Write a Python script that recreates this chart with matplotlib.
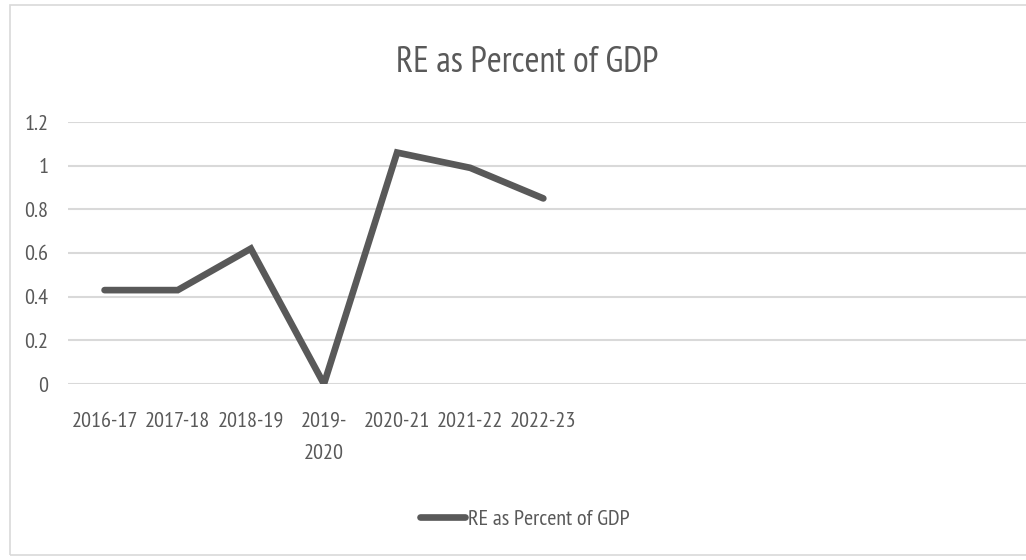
import matplotlib
matplotlib.use("Agg")
import matplotlib.pyplot as plt
from matplotlib.patches import Rectangle

years = ["2016-17", "2017-18", "2018-19", "2019-\n2020", "2020-21", "2021-22", "2022-23"]
re_pct_gdp = [0.43, 0.43, 0.62, 0.0, 1.06, 0.99, 0.85]
y_ticks = [0, 0.2, 0.4, 0.6, 0.8, 1, 1.2]
y_labels = ["0", "0.2", "0.4", "0.6", "0.8", "1", "1.2"]

plt.rcParams['font.family'] = ['PT Sans Narrow', 'DejaVu Sans']
text_col = '#595959'
line_col = '#595959'
grid_col = '#d9d9d9'

fig = plt.figure(figsize=(10.26, 5.6), dpi=100)
fig.patches.append(Rectangle((10 / 1026, 5 / 560), 1.2, 550 / 560, transform=fig.transFigure,
                             fill=False, edgecolor='#d9d9d9', linewidth=1.2))

ax = fig.add_axes([68 / 1026, 1 - 384 / 560, 1 - 68 / 1026, (384 - 122) / 560])
x = list(range(len(years)))
ax.plot(x, re_pct_gdp, color=line_col, linewidth=4.8,
        solid_capstyle='round', solid_joinstyle='miter', label='RE as Percent of GDP',
        zorder=3)

ax.set_ylim(0, 1.2)
ax.set_xlim(-0.5, 12.6)
ax.set_yticks(y_ticks)
ax.set_yticklabels(y_labels)
ax.set_xticks(x)
ax.set_xticklabels(years, linespacing=1.85)
ax.tick_params(axis='both', length=0, labelsize=16, colors=text_col)
ax.tick_params(axis='y', pad=14)
ax.tick_params(axis='x', pad=20)
for s in ax.spines.values():
    s.set_visible(False)
ax.grid(axis='y', color=grid_col, linewidth=1.5)
ax.set_axisbelow(True)

fig.text(527 / 1026, 1 - 62 / 560, "RE as Percent of GDP", ha='center', va='center',
         fontsize=26, color=text_col)

leg = fig.legend(loc='center', bbox_to_anchor=(525 / 1026, 1 - 519 / 560), frameon=False,
                 fontsize=16, labelcolor=text_col, handlelength=2.0, handletextpad=0.15)

fig.savefig('out.png', dpi=100)
